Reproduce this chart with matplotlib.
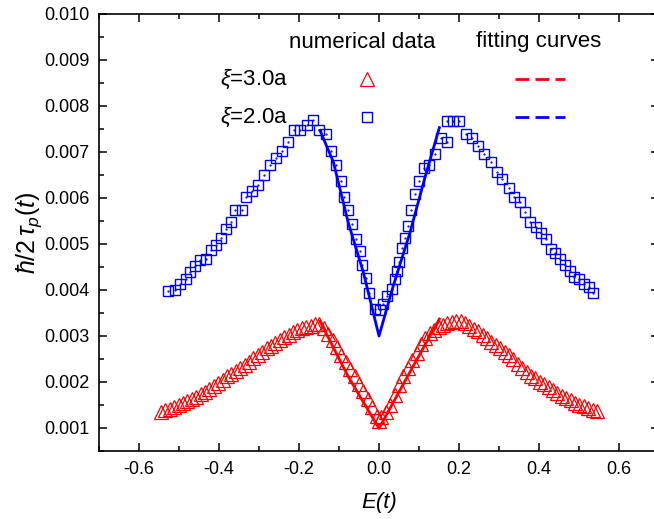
import matplotlib
matplotlib.use("Agg")
import matplotlib.pyplot as plt

plt.rcParams['font.family'] = ['Liberation Sans', 'DejaVu Sans']
plt.rcParams['mathtext.fontset'] = 'custom'
plt.rcParams['mathtext.rm'] = 'Liberation Sans'
plt.rcParams['mathtext.it'] = 'Liberation Sans:italic'

# numerical data, xi = 2.0a (blue squares)
blue_E_left = [-0.527, -0.510, -0.4975, -0.483, -0.4725, -0.46, -0.4475, -0.4325, -0.42, -0.4075,
               -0.395, -0.3825, -0.371, -0.36, -0.343, -0.3325, -0.318, -0.303, -0.2875, -0.2725,
               -0.2575, -0.2425, -0.2275, -0.212, -0.1975, -0.181, -0.164, -0.149, -0.133, -0.121,
               -0.1075, -0.096, -0.087, -0.077, -0.0675, -0.058, -0.0475, -0.042, -0.0325, -0.024,
               -0.01, 0.0025]
blue_v_left = [0.00398, 0.00400, 0.00414, 0.00425, 0.00439, 0.00452, 0.00465, 0.00468, 0.00487, 0.00497,
               0.00514, 0.00532, 0.00547, 0.00574, 0.00574, 0.00603, 0.00615, 0.00628, 0.00649, 0.00671,
               0.00688, 0.00703, 0.00722, 0.00748, 0.00748, 0.00758, 0.00769, 0.00747, 0.00740, 0.00703,
               0.00672, 0.00636, 0.00603, 0.00574, 0.00543, 0.00510, 0.00484, 0.00454, 0.00427, 0.00393,
               0.00359, 0.00356]
blue_E_right = [0.011, 0.019, 0.032, 0.04, 0.044, 0.051, 0.057, 0.065, 0.073, 0.08,
                0.09, 0.101, 0.113, 0.125, 0.14, 0.155, 0.169, 0.171, 0.186, 0.201,
                0.2175, 0.232, 0.248, 0.2625, 0.279, 0.294, 0.308, 0.324, 0.338, 0.3525,
                0.365, 0.3775, 0.392, 0.404, 0.4175, 0.429, 0.44, 0.4525, 0.465, 0.4775,
                0.488, 0.50, 0.5125, 0.526, 0.536]
blue_v_right = [0.00369, 0.00387, 0.00403, 0.00423, 0.00441, 0.00461, 0.00492, 0.00514, 0.00540, 0.00574,
                0.00609, 0.00636, 0.00665, 0.00672, 0.00696, 0.00730, 0.00722, 0.00767, 0.00767, 0.00767,
                0.00740, 0.00730, 0.00712, 0.00696, 0.00679, 0.00657, 0.00641, 0.00622, 0.00603, 0.00591,
                0.00569, 0.00548, 0.00538, 0.00524, 0.00510, 0.00489, 0.00480, 0.00467, 0.00454, 0.00441,
                0.00429, 0.00423, 0.00412, 0.00407, 0.00394]

# numerical data, xi = 3.0a (red triangles)
red_E_left = [-0.545, -0.534, -0.523, -0.512, -0.501, -0.490, -0.479, -0.468, -0.457, -0.446,
              -0.435, -0.424, -0.413, -0.402, -0.391, -0.380, -0.369, -0.358, -0.347, -0.336,
              -0.325, -0.314, -0.303, -0.292, -0.281, -0.270, -0.259, -0.248, -0.237, -0.226,
              -0.215, -0.204, -0.193, -0.182, -0.171, -0.160, -0.149, -0.138, -0.127, -0.116,
              -0.105, -0.094, -0.083, -0.072, -0.061, -0.050, -0.039, -0.028, -0.017, -0.006, 0.0]
red_v_left = [0.00135, 0.00139, 0.00142, 0.00146, 0.00150, 0.00154, 0.00158, 0.00163, 0.00168, 0.00174,
              0.00179, 0.00185, 0.00192, 0.00198, 0.00205, 0.00212, 0.00218, 0.00224, 0.00231, 0.00237,
              0.00244, 0.00252, 0.00259, 0.00266, 0.00273, 0.00279, 0.00285, 0.00291, 0.00297, 0.00303,
              0.00309, 0.00314, 0.00317, 0.00319, 0.00322, 0.00326, 0.00327, 0.00317, 0.00304, 0.00291,
              0.00277, 0.00259, 0.00244, 0.00228, 0.00212, 0.00196, 0.00180, 0.00163, 0.00145, 0.00127, 0.00115]
red_E_right = [0.006, 0.017, 0.028, 0.039, 0.050, 0.061, 0.072, 0.083, 0.094, 0.105,
               0.116, 0.127, 0.138, 0.149, 0.160, 0.171, 0.182, 0.193, 0.204, 0.215,
               0.226, 0.237, 0.248, 0.259, 0.270, 0.281, 0.292, 0.303, 0.314, 0.325,
               0.336, 0.347, 0.358, 0.369, 0.380, 0.391, 0.402, 0.413, 0.424, 0.435,
               0.446, 0.457, 0.468, 0.479, 0.490, 0.501, 0.512, 0.523, 0.534, 0.545]
red_v_right = [0.00123, 0.00135, 0.00151, 0.00171, 0.00193, 0.00212, 0.00230, 0.00247, 0.00264, 0.00282,
               0.00295, 0.00306, 0.00313, 0.00319, 0.00324, 0.00328, 0.00331, 0.00333, 0.00333, 0.00328,
               0.00322, 0.00316, 0.00310, 0.00303, 0.00296, 0.00288, 0.00281, 0.00274, 0.00266, 0.00258,
               0.00249, 0.00239, 0.00230, 0.00222, 0.00214, 0.00208, 0.00201, 0.00195, 0.00189, 0.00183,
               0.00176, 0.00170, 0.00165, 0.00160, 0.00155, 0.00151, 0.00147, 0.00144, 0.00140, 0.00136]

# fitting curves
blue_fit_E = [-0.1475, -0.114, -0.077, -0.039, 0.0, 0.036, 0.0775, 0.115, 0.151]
blue_fit_v = [0.00747, 0.00678, 0.00547, 0.00438, 0.0030, 0.00410, 0.00525, 0.00645, 0.00753]
red_fit_E = [-0.1475, -0.077, 0.0, 0.075, 0.151]
red_fit_v = [0.00332, 0.00212, 0.00099, 0.00218, 0.00337]

RED = '#ff0000'
BLUE = '#0000ff'
W, H = 654, 519

fig = plt.figure(figsize=(W / 100, H / 100), dpi=100)
ax = fig.add_axes([99 / W, (H - 451) / H, 560 / W, 437 / H])

ax.plot(red_E_left + red_E_right, red_v_left + red_v_right, linestyle='none', marker='^',
        markersize=9.5, markerfacecolor='none', markeredgecolor=RED, markeredgewidth=0.9)
ax.plot(red_fit_E, red_fit_v, color=RED, lw=2)

blue_E = blue_E_left + blue_E_right
blue_v = blue_v_left + blue_v_right
ax.plot(blue_E, blue_v, linestyle='none', marker='s', markersize=7.8,
        markerfacecolor='none', markeredgecolor=BLUE, markeredgewidth=1.0)
ax.plot(blue_E, blue_v, linestyle='none', marker='.', markersize=1.2, color=BLUE)
ax.plot(blue_fit_E, blue_fit_v, color=BLUE, lw=2)

ax.set_xlim(-0.7, 0.7)
ax.set_ylim(0.0005, 0.010)
ax.set_xticks([-0.6, -0.4, -0.2, 0.0, 0.2, 0.4, 0.6])
ax.set_xticks([-0.7, -0.5, -0.3, -0.1, 0.1, 0.3, 0.5, 0.7], minor=True)
ax.set_yticks([0.001 * i for i in range(1, 11)])
ax.set_yticks([0.0005 + 0.001 * i for i in range(10)], minor=True)
ax.set_xticklabels(['-0.6', '-0.4', '-0.2', '0.0', '0.2', '0.4', '0.6'])
ax.set_yticklabels(['%.3f' % (0.001 * i) for i in range(1, 11)])
ax.tick_params(which='both', direction='in', top=True, right=True, width=1.1, labelsize=13, pad=7)
ax.tick_params(which='major', length=6)
ax.tick_params(which='minor', length=3.5)
for sp in ax.spines.values():
    sp.set_linewidth(1.2)

ax.set_xlabel('E(t)', fontsize=16, style='italic', labelpad=10)
ax.set_ylabel(r'$ħ/2\,\tau_p(t)$', fontsize=18)
ax.yaxis.set_label_coords(-0.098, 0.5)

# legend built from text and sample marks
def fx(px):
    return px / W

def fy(py):
    return 1 - py / H

fig.text(fx(289), fy(42), 'numerical data', fontsize=16, va='center', ha='left')
fig.text(fx(476), fy(42), 'fitting curves', fontsize=16, va='center', ha='left')
fig.text(fx(220), fy(79), r'$\xi$=3.0a', fontsize=16, va='center', ha='left')
fig.text(fx(220), fy(117), r'$\xi$=2.0a', fontsize=16, va='center', ha='left')
fig.lines.append(plt.Line2D([fx(367)], [fy(79)], transform=fig.transFigure, linestyle='none', marker='^',
                            markersize=9.5, markerfacecolor='none', markeredgecolor=RED, markeredgewidth=0.9))
fig.lines.append(plt.Line2D([fx(367)], [fy(117)], transform=fig.transFigure, linestyle='none', marker='s',
                            markersize=7.8, markerfacecolor='none', markeredgecolor=BLUE, markeredgewidth=1.0))
fig.lines.append(plt.Line2D([fx(515), fx(565)], [fy(79), fy(79)], transform=fig.transFigure,
                            color=RED, lw=2, dashes=(5, 2.2)))
fig.lines.append(plt.Line2D([fx(515), fx(565)], [fy(117), fy(117)], transform=fig.transFigure,
                            color=BLUE, lw=2, dashes=(5, 2.2)))

fig.savefig('out.png', dpi=100)
